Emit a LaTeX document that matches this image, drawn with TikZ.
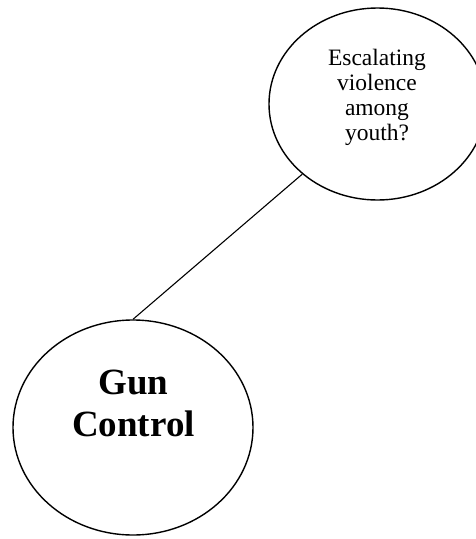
\documentclass[tikz,border=0pt]{standalone}
\usepackage{fontspec}
\setmainfont{Liberation Serif}
\usetikzlibrary{shapes.geometric}
\begin{document}
\begin{tikzpicture}[x=1pt, y=-1pt,
  bubble/.style={ellipse, draw, line width=1.4pt, inner sep=0pt},
  smalltext/.style={align=center, font=\fontsize{23.5}{24.8}\selectfont},
  bigtext/.style={align=center, font=\fontsize{37}{42}\selectfont\bfseries}]
\clip (0,0) rectangle (476,539);

\node[bubble, minimum width=217pt, minimum height=192pt] (youth) at (377.5,104) {};
\node[bubble, minimum width=240pt, minimum height=215pt] (gun) at (133,427.5) {};
\node[smalltext] (youthtext) at (377,97.5) {Escalating\\violence\\among\\youth?};
\node[bigtext] (guntext) at (133.5,403.5) {Gun\\Control};

\draw[line width=1.1pt] (gun.north) -- (youth.223);
\end{tikzpicture}
\end{document}
